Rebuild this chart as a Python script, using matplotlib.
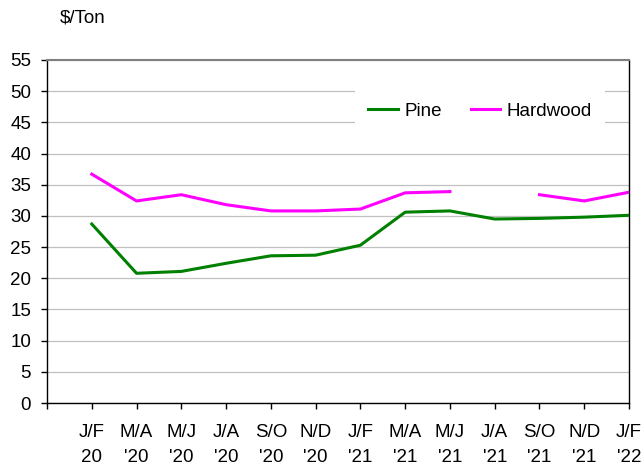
import numpy as np
import matplotlib
matplotlib.use("Agg")
import matplotlib.pyplot as plt

categories = ["J/F\n20", "M/A\n'20", "M/J\n'20", "J/A\n'20", "S/O\n'20", "N/D\n'20",
              "J/F\n'21", "M/A\n'21", "M/J\n'21", "J/A\n'21", "S/O\n'21", "N/D\n'21", "J/F\n'22"]
pine = [28.7, 20.8, 21.1, 22.4, 23.6, 23.7, 25.3, 30.6, 30.8, 29.5, 29.6, 29.8, 30.1]
hardwood = [36.7, 32.4, 33.4, 31.8, 30.8, 30.8, 31.1, 33.7, 33.9, np.nan, 33.4, 32.4, 33.8]
yticks = list(range(0, 56, 5))

plt.rcParams['font.family'] = ['Liberation Sans', 'DejaVu Sans']
FS = 13.5

fig = plt.figure(figsize=(6.44, 4.68), dpi=100)
ax = fig.add_axes([47/644, 1-403/468, (629-47)/644, (403-60)/468])

x = np.arange(1, len(categories)+1)
ax.plot(x, pine, color='#008000', lw=2.2, label='Pine', zorder=3)
ax.plot(x, hardwood, color='#FF00FF', lw=2.2, label='Hardwood', zorder=3)

ax.set_xlim(0, len(categories))
ax.set_ylim(0, 55)
ax.set_yticks(yticks)
ax.set_yticklabels([str(v) for v in yticks], fontsize=FS)
ax.set_xticks(np.arange(0, len(categories)+1))
ax.set_xticklabels([""] + categories, fontsize=FS, linespacing=1.6)
ax.tick_params(axis='x', length=4, width=1, pad=11, direction='out')
ax.tick_params(axis='y', length=4.5, width=1, pad=7, direction='out')
ax.grid(axis='y', color='#c0c0c0', lw=0.9, zorder=0)
ax.set_axisbelow(True)
for s in ['left', 'bottom', 'right']:
    ax.spines[s].set_color('black')
    ax.spines[s].set_linewidth(1.0)
ax.spines['top'].set_color('#808080')
ax.spines['top'].set_linewidth(1.5)

fig.text(60/644, 1-18/468, "$/Ton", fontsize=FS, ha='left', va='center')

leg = ax.legend(loc='center', bbox_to_anchor=(480/644, 1-111/468), bbox_transform=fig.transFigure,
                ncol=2, frameon=True, fancybox=False, edgecolor='none', facecolor='white', framealpha=1,
                fontsize=FS, handlelength=1.55, handletextpad=0.35, columnspacing=1.55,
                borderpad=0.7)
fig.savefig("out.png", dpi=100)
